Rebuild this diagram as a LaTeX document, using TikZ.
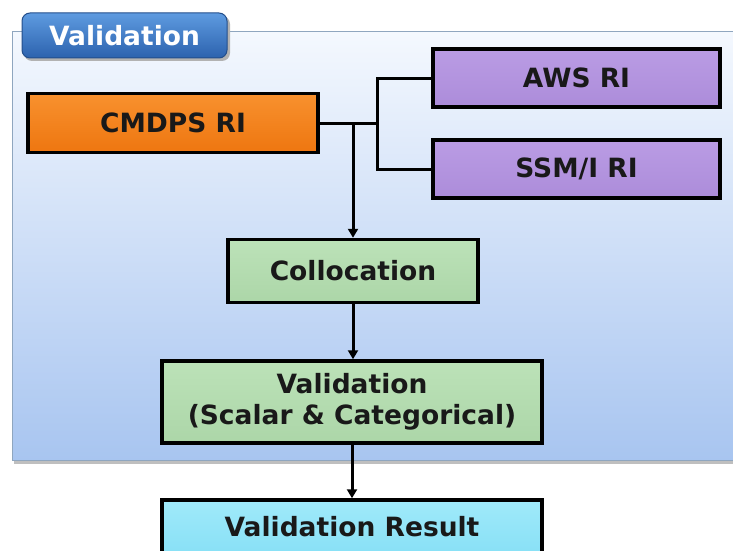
\documentclass[tikz,border=0pt]{standalone}
\usepackage{fontspec}
\setmainfont{DejaVu Sans}
\usetikzlibrary{arrows.meta,calc,shadows}
\definecolor{panelTop}{HTML}{F4F8FE}
\definecolor{panelBot}{HTML}{A8C5F0}
\definecolor{panelEdge}{HTML}{8FA6BF}
\definecolor{tabTop}{HTML}{5E9BE0}
\definecolor{tabBot}{HTML}{2C62AE}
\definecolor{orangeA}{HTML}{F8912E}
\definecolor{orangeB}{HTML}{EE7610}
\definecolor{purpleA}{HTML}{BA9CE4}
\definecolor{purpleB}{HTML}{AC8CDA}
\definecolor{greenA}{HTML}{BCE2B8}
\definecolor{greenB}{HTML}{ACD6A8}
\definecolor{cyanA}{HTML}{A0EAFA}
\definecolor{cyanB}{HTML}{88E0F6}
\tikzset{
  boxstyle/.style={draw=black, line width=3.5pt, rectangle, inner sep=0pt,
    font=\bfseries\fontsize{26.5}{31}\selectfont, align=center, text=black!90},
  conn/.style={line width=3pt, draw=black},
  arr/.style={conn, -{Triangle[length=9pt,width=10pt]}},
}
\begin{document}
\begin{tikzpicture}[x=1pt,y=-1pt]
\useasboundingbox (0,0) rectangle (733,551);
% panel
\fill[black!25] (14,36) rectangle (745,464);
\draw[panelEdge, line width=1pt, top color=panelTop, bottom color=panelBot] (12,32) rectangle (745,460);
% tab
\fill[black!30, rounded corners=8pt] (24,16) rectangle (230,61);
\node[draw=tabBot!80!black, line width=1pt, top color=tabTop, bottom color=tabBot, rounded corners=8pt,
  minimum width=205pt, minimum height=45pt, inner sep=0pt, text=white,
  font=\bfseries\fontsize{26.5}{31}\selectfont] (tab) at (124.5,35.5) {Validation};
% boxes
\node[boxstyle, top color=orangeA, bottom color=orangeB, minimum width=290pt, minimum height=59pt] (cmdps) at (173,123) {CMDPS RI};
\node[boxstyle, top color=purpleA, bottom color=purpleB, minimum width=287pt, minimum height=58pt] (aws) at (576.5,78) {AWS RI};
\node[boxstyle, top color=purpleA, bottom color=purpleB, minimum width=287pt, minimum height=58pt] (ssm) at (576.5,169) {SSM/I RI};
\node[boxstyle, top color=greenA, bottom color=greenB, minimum width=250pt, minimum height=63pt] (coll) at (353,271) {Collocation};
\node[boxstyle, top color=greenA, bottom color=greenB, minimum width=380pt, minimum height=82pt] (val) at (352,402) {Validation\\(Scalar \& Categorical)};
\node[boxstyle, top color=cyanA, bottom color=cyanB, minimum width=380pt, minimum height=54pt] (res) at (352,527) {Validation Result};
% connectors
\coordinate (j) at (377,123);
\coordinate (s) at (353,123);
\draw[conn] (cmdps.east) -- (j);
\draw[conn] (j) |- (aws.west);
\draw[conn] (j) |- (ssm.west);
\draw[arr] (s) -- (coll.north);
\draw[arr] (coll.south) -- (coll.south |- val.north);
\draw[arr] (val.south) -- (res.north);
\end{tikzpicture}
\end{document}
